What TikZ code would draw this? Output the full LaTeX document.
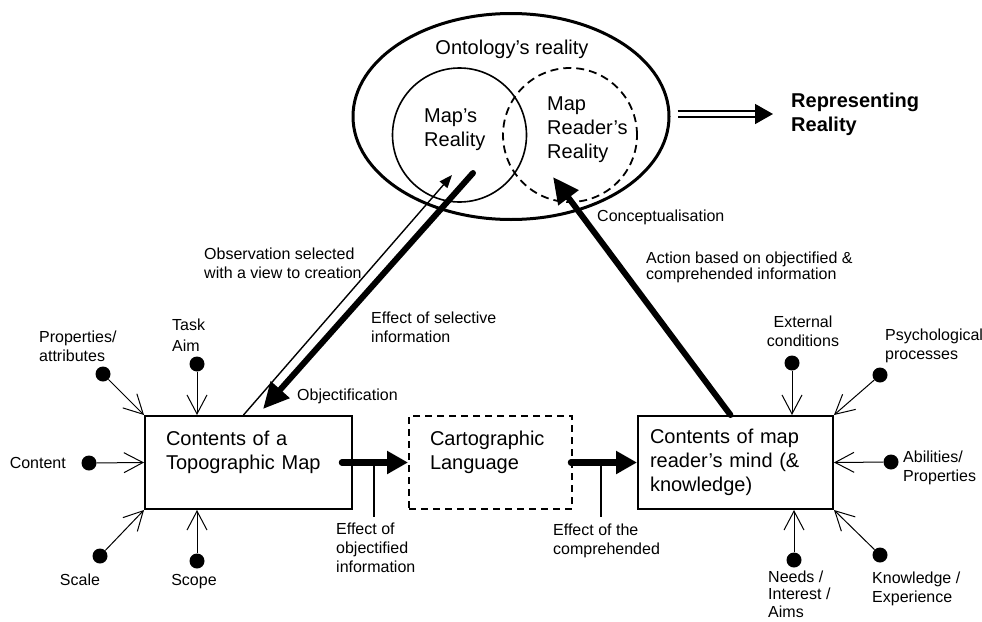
\documentclass[tikz,border=0pt]{standalone}
\usepackage{fontspec}
\setmainfont{Liberation Sans}
\usetikzlibrary{arrows.meta,shapes.geometric,calc}

\newcommand\boxfont{\fontsize{20}{24}\selectfont}
\newcommand\lblfont{\fontsize{16}{19}\selectfont}

\tikzset{
  box/.style={draw, rectangle, line width=2pt, align=left, inner ysep=0pt,
    minimum height=93pt, font=\boxfont},
  dashbox/.style={box, dash pattern=on 7pt off 5pt},
  bigtext/.style={font=\boxfont, inner sep=0pt, align=left},
  lbl/.style={font=\lblfont, inner sep=0pt, align=left},
  dot/.style={circle, fill, inner sep=0pt, minimum size=15pt},
  feed/.style={line width=1pt, -{Straight Barb[length=19pt,width=20pt]}},
  tick/.style={line width=2pt},
  bigarrow/.style={line width=6.5pt, line cap=round,
    -{Triangle[length=21pt,width=22pt]}},
  diagarrow/.style={line width=6pt, line cap=round,
    -{Triangle[length=26pt,width=24pt]}},
  thinarrow/.style={line width=1.4pt, -{Triangle[length=13pt,width=10pt]}},
  dblarrow/.style={double, double distance=4pt, line width=1.6pt,
    -{Triangle[length=18pt,width=20pt]}, shorten <=7pt, shorten >=18pt}
}

\begin{document}
\begin{tikzpicture}[x=1pt, y=-1pt]
  \useasboundingbox (0,0) rectangle (982,621);

  % realities
  \node[ellipse, draw, line width=3pt, minimum width=316pt, minimum height=206pt] (onto) at (511,116.5) {};
  \node[bigtext] (ontolbl) at (512,49) {Ontology's reality};
  \node[circle, draw, line width=1.6pt, minimum size=134pt, inner sep=0pt] (mapreal) at (459.5,135) {};
  \node[circle, draw, line width=1.8pt, dash pattern=on 8pt off 5pt, minimum size=134pt, inner sep=0pt] (readreal) at (570,135) {};
  \node[bigtext, anchor=west] (maplbl) at (424,130) {Map's\\Reality};
  \node[bigtext, anchor=west] (readlbl) at (547,130) {Map\\Reader's\\Reality};

  \node[bigtext, anchor=west, font=\boxfont\bfseries] (rep) at (791,114) {Representing\\Reality};
  \draw[dblarrow] (onto.east |- rep.west) -- (rep.west);

  % the three boxes
  \node[box, minimum width=207pt, inner xsep=21pt, text width=165pt] (topo) at (248.5,462.5) {Contents of a\\Topographic Map\\\mbox{}};
  \node[dashbox, minimum width=163pt, inner xsep=21pt, text width=121pt] (carto) at (490.5,462.5) {Cartographic\\Language\\\mbox{}};
  \node[box, minimum width=195pt, inner xsep=12pt, text width=171pt] (mind) at (735.5,462.5) {Contents of map\\reader's mind (\&\\knowledge)};

  \draw[bigarrow] ([xshift=-11pt]topo.east) -- (carto.west); % topo->carto
  \draw[bigarrow] ([xshift=-2pt]carto.east) -- (mind.west); % carto->mind
  \coordinate (t1) at (374,463);
  \coordinate (t2) at (601,463);
  \draw[tick] (t1) -- ++(0,54);
  \draw[tick] (t2) -- ++(0,54);
  \node[lbl, anchor=west] (efobj) at (336,548) {Effect of\\objectified\\information};
  \node[lbl, anchor=west] (efcomp) at (553,541) {Effect of the\\comprehended};

  % between boxes and realities
  \draw[thinarrow] ([xshift=-5pt]topo.north) -- ($(mapreal.center)+(-7.5,40)$); % observation
  \draw[diagarrow] ($(mapreal.center)+(13.5,38)$) -- ($(topo.north)+(14.5,-6)$); % selective info
  \draw[diagarrow] ([xshift=-5pt]mind.north) -- ($(readreal.center)+(-17,42)$); % action
  \node[lbl, anchor=west] (obs) at (204,263) {Observation selected\\with a view to creation};
  \node[lbl, anchor=west] (efsel) at (371,327) {Effect of selective\\information};
  \node[lbl, anchor=west] (objf) at (297,396) {Objectification};
  \node[lbl, anchor=west] (concp) at (597,217) {Conceptualisation};
  \node[lbl, anchor=west, font=\fontsize{16}{16}\selectfont] (action) at (646,267) {Action based on objectified \&\\comprehended information};

  % map side
  \node[dot] (dprop) at (103,374) {};
  \node[dot] (dtask) at (197,364) {};
  \node[dot] (dcont) at (89,463) {};
  \node[dot] (dscale) at (100,556) {};
  \node[dot] (dscope) at (197,561) {};
  \draw[feed] (dprop) -- (topo.north west);
  \draw[feed] (dtask) -- (dtask |- topo.north);
  \draw[feed] (dcont) -- (topo.west);
  \draw[feed] (dscale) -- (topo.south west);
  \draw[feed] (dscope) -- (dscope |- topo.south);
  \node[lbl, anchor=west] (lprop) at (39,346) {Properties/\\attributes};
  \node[lbl, anchor=west, font=\fontsize{16}{21}\selectfont] (ltask) at (172,335) {Task\\Aim};
  \node[lbl, anchor=east] (lcont) at (66,463) {Content};
  \node[lbl] (lscale) at (80,580) {Scale};
  \node[lbl] (lscope) at (194,582) {Scope};

  % reader side
  \node[dot] (dext) at (792,363) {};
  \node[dot] (dpsy) at (880,375) {};
  \node[dot] (dabil) at (891,462) {};
  \node[dot] (dneed) at (794,560) {};
  \node[dot] (dknow) at (880,555) {};
  \draw[feed] (dext) -- (dext |- mind.north);
  \draw[feed] (dpsy) -- (mind.north east);
  \draw[feed] (dabil) -- (mind.east);
  \draw[feed] (dneed) -- (dneed |- mind.south);
  \draw[feed] (dknow) -- (mind.south east);
  \node[lbl, align=center] (lext) at (803,331) {External\\conditions};
  \node[lbl, anchor=west] (lpsy) at (885,346) {Psychological\\processes};
  \node[lbl, anchor=west] (labil) at (903,468) {Abilities/\\Properties};
  \node[lbl, anchor=west, font=\fontsize{16}{17.5}\selectfont] (lneed) at (768,594) {Needs /\\Interest /\\Aims};
  \node[lbl, anchor=west] (lknow) at (872,589) {Knowledge /\\Experience};

\end{tikzpicture}
\end{document}
